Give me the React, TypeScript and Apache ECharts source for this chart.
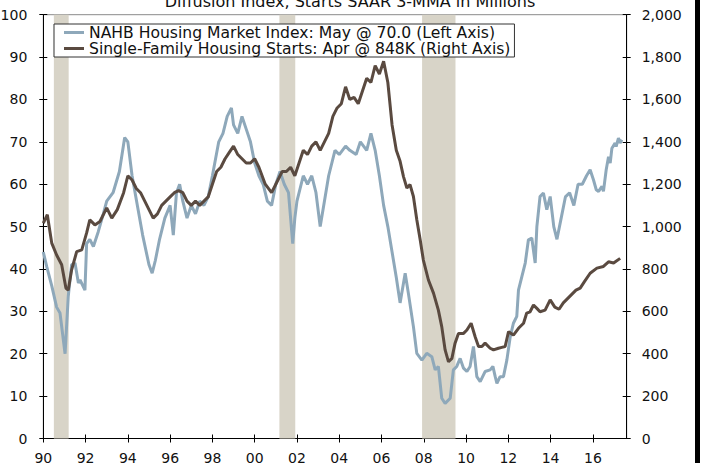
import React, { useEffect, useRef } from 'react';
import * as echarts from 'echarts';

const titleText = 'Diffusion Index, Starts SAAR 3-MMA in Millions';
const nahbName = 'NAHB Housing Market Index: May @ 70.0 (Left Axis)';
const startsName = 'Single-Family Housing Starts: Apr @ 848K (Right Axis)';

// decimal years
const nahbDates = [
  1990.0, 1990.16, 1990.4, 1990.63, 1990.79, 1991.03, 1991.18, 1991.34, 1991.5, 1991.66, 1991.74, 1991.97,
  1992.05, 1992.2, 1992.37, 1992.6, 1992.84, 1993.0, 1993.3, 1993.6, 1993.85, 1994.0, 1994.2, 1994.45, 1994.7,
  1995.0, 1995.15, 1995.3, 1995.5, 1995.75, 1996.0, 1996.15, 1996.3, 1996.45, 1996.6, 1996.8, 1997.0, 1997.2, 1997.4,
  1997.6, 1997.8, 1998.0, 1998.3, 1998.5, 1998.7, 1998.9, 1999.0, 1999.2, 1999.4, 1999.6, 1999.8, 2000.0,
  2000.2, 2000.4, 2000.6, 2000.8, 2001.0, 2001.2, 2001.4, 2001.6, 2001.8, 2001.9, 2002.0, 2002.3, 2002.5,
  2002.7, 2002.9, 2003.1, 2003.3, 2003.5, 2003.8, 2004.0, 2004.3, 2004.5, 2004.8, 2005.0, 2005.3, 2005.5,
  2005.7, 2005.9, 2006.1, 2006.3, 2006.5, 2006.7, 2006.88, 2007.12, 2007.27, 2007.51, 2007.67, 2007.91,
  2008.14, 2008.38, 2008.54, 2008.69, 2008.85, 2009.01, 2009.25, 2009.4, 2009.56, 2009.72, 2009.88, 2010.04,
  2010.19, 2010.35, 2010.51, 2010.67, 2010.9, 2011.14, 2011.27, 2011.38, 2011.46, 2011.61, 2011.77, 2011.93,
  2012.09, 2012.24, 2012.4, 2012.48, 2012.64, 2012.8, 2012.95, 2013.11, 2013.27, 2013.35, 2013.5, 2013.66,
  2013.82, 2013.98, 2014.15, 2014.3, 2014.5, 2014.7, 2014.9, 2015.1, 2015.3, 2015.5, 2015.7, 2015.87, 2016.03,
  2016.16, 2016.27, 2016.43, 2016.5, 2016.63, 2016.74, 2016.82, 2016.9, 2017.05, 2017.1, 2017.21, 2017.29, 2017.37,
];
const nahbValues = [
  44, 40.6, 36, 31, 29.6, 20, 33.5, 41, 41.4, 36.7, 37.4, 35,
  46, 47, 45.3, 48.8, 53, 56, 58, 63, 71, 70, 62, 55, 48,
  41, 39, 42, 47, 52, 55, 48, 58, 60, 56, 52, 55, 53, 56,
  55, 57, 62, 70, 72, 76, 78, 74, 72, 76, 73, 70, 65,
  62, 60, 56, 55, 60, 63, 60, 58, 46, 52, 56, 62, 60,
  62, 58, 50, 56, 62, 68, 67, 69, 68, 67, 70, 68, 72,
  68, 62, 55, 50, 44, 38, 32, 39, 34.3, 26.4, 20.1, 18.5,
  20.1, 19.3, 16.2, 17, 9.5, 8.3, 9.5, 16.2, 17, 18.9, 16.6, 15.8,
  17, 21.7, 14.6, 13.4, 15.8, 16.2, 17, 14.6, 13, 14.6, 14.6, 18.5,
  24, 27.2, 28.8, 35, 38.2, 41.4, 46.9, 47.3, 41.4, 50, 57.1, 57.9,
  54, 57.1, 50, 47, 52, 57, 58, 55, 60, 60, 62, 63.4, 61,
  58.7, 58.3, 59.5, 58.3, 63.4, 66.5, 65, 68.5, 69.7, 68.9, 70.9, 69.7, 70.5,
];

const startsDates = [
  1990.0, 1990.19, 1990.4, 1990.63, 1990.87, 1991.07, 1991.18, 1991.34, 1991.58, 1991.82, 1992.05, 1992.2,
  1992.44, 1992.68, 1993.0, 1993.24, 1993.5, 1993.8, 1994.0, 1994.2, 1994.4, 1994.6, 1994.8, 1995.0, 1995.2,
  1995.4, 1995.6, 1995.8, 1996.0, 1996.2, 1996.4, 1996.6, 1996.8, 1997.0, 1997.2, 1997.4, 1997.6, 1997.8,
  1998.0, 1998.2, 1998.4, 1998.6, 1998.8, 1999.0, 1999.2, 1999.4, 1999.6, 1999.8, 2000.0, 2000.2, 2000.5,
  2000.8, 2001.0, 2001.3, 2001.5, 2001.7, 2001.9, 2002.1, 2002.3, 2002.5, 2002.7, 2002.9, 2003.1, 2003.3,
  2003.5, 2003.7, 2003.9, 2004.1, 2004.3, 2004.5, 2004.7, 2004.9, 2005.1, 2005.3, 2005.5, 2005.7, 2005.9,
  2006.1, 2006.3, 2006.5, 2006.7, 2006.88, 2007.04, 2007.2, 2007.35, 2007.51, 2007.67, 2007.83, 2007.98,
  2008.22, 2008.46, 2008.69, 2008.85, 2009.01, 2009.17, 2009.33, 2009.48, 2009.64, 2009.88, 2010.04, 2010.24,
  2010.43, 2010.59, 2010.75, 2010.9, 2011.14, 2011.3, 2011.53, 2011.69, 2011.85, 2012.01, 2012.24, 2012.48,
  2012.72, 2012.87, 2013.03, 2013.19, 2013.35, 2013.5, 2013.74, 2013.98, 2014.2, 2014.4, 2014.6, 2014.8,
  2015.0, 2015.2, 2015.4, 2015.6, 2015.87, 2016.19, 2016.5, 2016.74, 2016.98, 2017.29,
];
// thousands of units
const startsValues = [
  1016, 1056, 922, 866, 820, 710, 700, 796, 882, 890, 970, 1032,
  1008, 1024, 1088, 1040, 1080, 1160, 1240, 1220, 1180, 1160, 1120, 1080, 1040,
  1060, 1100, 1120, 1140, 1160, 1170, 1160, 1120, 1100, 1120, 1100, 1120, 1140,
  1200, 1260, 1280, 1320, 1350, 1380, 1340, 1320, 1300, 1300, 1320, 1280, 1200,
  1160, 1200, 1260, 1260, 1280, 1240, 1300, 1360, 1340, 1380, 1400, 1360, 1400,
  1440, 1520, 1560, 1580, 1660, 1600, 1610, 1580, 1640, 1700, 1680, 1760, 1720,
  1780, 1680, 1480, 1360, 1308, 1236, 1182, 1198, 1142, 1032, 938, 842,
  748, 686, 606, 528, 418, 362, 378, 450, 496, 496, 512, 544,
  480, 434, 434, 450, 426, 418, 426, 430, 434, 504, 488, 520,
  544, 592, 598, 630, 614, 598, 606, 654, 620, 610, 640, 660,
  680, 700, 710, 740, 780, 804, 812, 834, 828, 850,
];

const recessions: [number, number][] = [
  [1990.5, 1991.2],
  [2001.17, 2001.92],
  [2007.92, 2009.5],
];

const xMin = 1990;
const xMax = 2017.6;
const leftMax = 100;
const rightMax = 2000;

const FONT = 'DejaVu Sans';
const INK = '#111111';

export default function App() {
  const ref = useRef<HTMLDivElement>(null);
  useEffect(() => {
    if (!ref.current) return;
    const chart = echarts.init(ref.current, undefined, { renderer: 'svg' });
    const zip = (xs: number[], ys: number[]) => xs.map((x, i) => [x, ys[i]]);
    const yearLabel = (v: number) =>
      Number.isInteger(v) && v % 2 === 0 ? String(v).slice(2) : '';
    const commaLabel = (v: number) => v.toLocaleString('en-US');

    const baseX = {
      type: 'value' as const,
      min: xMin,
      max: xMax,
      interval: 2,
      position: 'bottom' as const,
      splitLine: { show: false },
    };
    chart.setOption({
      animation: false,
      backgroundColor: '#ffffff',
      textStyle: { fontFamily: FONT },
      title: {
        text: titleText,
        left: 345,
        textAlign: 'center',
        top: -12,
        textStyle: { fontFamily: FONT, fontSize: 16, fontWeight: 'normal', color: INK },
      },
      grid: {
        left: 43.3,
        right: 78.3,
        top: 14.7,
        bottom: 24.5,
        show: true,
        borderColor: '#8a8a8a',
        borderWidth: 1,
        containLabel: false,
        outerBoundsMode: 'none',
      },
      legend: {
        orient: 'vertical',
        left: 54,
        top: 24,
        padding: [0.5, 4, 0.5, 10],
        itemGap: 0,
        itemWidth: 20,
        itemHeight: 3,
        icon: 'rect',
        borderColor: '#333333',
        borderWidth: 1,
        backgroundColor: '#ffffff',
        textStyle: { fontFamily: FONT, fontSize: 15.6, lineHeight: 16, color: INK },
        data: [nahbName, startsName],
      },
      xAxis: [
        {
          ...baseX,
          axisLine: { show: true, lineStyle: { color: '#000', width: 1 } },
          axisTick: { show: true, inside: false, length: 4, lineStyle: { color: '#000' } },
          axisLabel: {
            show: true,
            margin: 12,
            fontFamily: FONT,
            fontSize: 14,
            color: INK,
            formatter: yearLabel,
            showMaxLabel: false,
          },
        },
        {
          ...baseX,
          axisLine: { show: false },
          axisTick: { show: true, inside: true, length: 4, lineStyle: { color: '#000' } },
          axisLabel: { show: false },
        },
      ],
      yAxis: [
        {
          type: 'value',
          position: 'left',
          min: 0,
          max: leftMax,
          interval: 10,
          splitLine: { show: false },
          axisLine: { show: true, lineStyle: { color: '#000' } },
          axisTick: { show: true, inside: false, length: 4, lineStyle: { color: '#000' } },
          axisLabel: { margin: 16, fontFamily: FONT, fontSize: 14, color: INK },
        },
        {
          type: 'value',
          position: 'right',
          min: 0,
          max: rightMax,
          interval: 200,
          splitLine: { show: false },
          axisLine: { show: true, lineStyle: { color: '#000' } },
          axisTick: { show: true, inside: false, length: 4, lineStyle: { color: '#000' } },
          axisLabel: { margin: 15, fontFamily: FONT, fontSize: 14, color: INK, formatter: commaLabel },
        },
        {
          type: 'value',
          position: 'left',
          min: 0,
          max: leftMax,
          interval: 10,
          splitLine: { show: false },
          axisLine: { show: false },
          axisTick: { show: true, inside: true, length: 4, lineStyle: { color: '#000' } },
          axisLabel: { show: false },
        },
        {
          type: 'value',
          position: 'right',
          min: 0,
          max: rightMax,
          interval: 200,
          splitLine: { show: false },
          axisLine: { show: false },
          axisTick: { show: true, inside: true, length: 4, lineStyle: { color: '#000' } },
          axisLabel: { show: false },
        },
      ],
      series: [
        {
          name: 'recessions',
          type: 'line',
          xAxisIndex: 0,
          yAxisIndex: 0,
          data: [],
          z: 1,
          silent: true,
          markArea: {
            silent: true,
            itemStyle: { color: '#d8d4c8', opacity: 1 },
            data: recessions.map(([a, b]) => [{ xAxis: a }, { xAxis: b }]),
          },
        },
        {
          name: nahbName,
          type: 'line',
          xAxisIndex: 0,
          yAxisIndex: 0,
          data: zip(nahbDates, nahbValues),
          showSymbol: false,
          symbol: 'none',
          z: 3,
          itemStyle: { color: '#8ea8ba' },
          lineStyle: { color: '#8ea8ba', width: 3 },
        },
        {
          name: startsName,
          type: 'line',
          xAxisIndex: 0,
          yAxisIndex: 1,
          data: zip(startsDates, startsValues),
          showSymbol: false,
          symbol: 'none',
          z: 4,
          itemStyle: { color: '#5a4a40' },
          lineStyle: { color: '#5a4a40', width: 3 },
        },
      ],
      graphic: [
        {
          type: 'rect',
          shape: { x: 695, y: 0, width: 5, height: 463 },
          style: { fill: '#000000' },
          silent: true,
        },
      ],
    });
    return () => chart.dispose();
  }, []);
  return (
    <div
      ref={ref}
      style={{ position: 'fixed', left: 0, top: 0, width: 705, height: 463, background: '#fff' }}
    />
  );
}
